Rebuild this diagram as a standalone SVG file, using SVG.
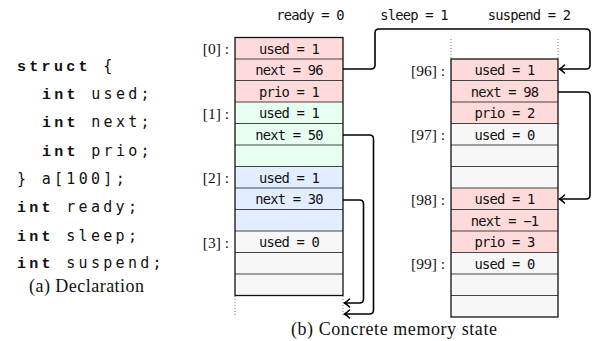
<svg xmlns="http://www.w3.org/2000/svg" width="593" height="341" viewBox="0 0 593 341">
<defs>
<marker id="arr" viewBox="-7 -6 9 12" markerWidth="9" markerHeight="12" refX="0" refY="0" orient="auto" markerUnits="userSpaceOnUse">
<path d="M-5,-4 Q-2,-1 0,0 Q-2,1 -5,4" fill="none" stroke="#000" stroke-width="1.5" stroke-linecap="round"/>
</marker>
</defs>
<style>
.code{font-family:"DejaVu Sans Mono",monospace;font-size:15px;letter-spacing:3.3px;fill:#111}
.kw{font-family:"Liberation Mono",monospace;font-weight:bold}
.cap{font-family:"Liberation Serif",serif;font-size:18px;fill:#111}
.idx{font-family:"Liberation Serif",serif;font-size:15.5px;fill:#111;text-anchor:end}
.cell{font-family:"DejaVu Sans Mono",monospace;font-size:13.8px;letter-spacing:-0.8px;fill:#111;text-anchor:middle}
.var{font-family:"DejaVu Sans Mono",monospace;font-size:13.8px;letter-spacing:-0.8px;fill:#111;text-anchor:middle}
.pk{fill:#ffdada}
.gr{fill:#e6fff0}
.bl{fill:#e2eeff}
.gy{fill:#f7f7f7}
.sep{stroke:#444;stroke-width:1}
.frame{fill:none;stroke:#111;stroke-width:1.3}
.dot{stroke:#777;stroke-width:1;stroke-dasharray:1 2}
.conn{fill:none;stroke:#000;stroke-width:1.6}
</style>

<g id="declaration">
<text class="code" x="17" y="71"><tspan class="kw">struct</tspan> {</text>
<text class="code" x="42" y="99"><tspan class="kw">int</tspan> used;</text>
<text class="code" x="42" y="127.3"><tspan class="kw">int</tspan> next;</text>
<text class="code" x="42" y="155.7"><tspan class="kw">int</tspan> prio;</text>
<text class="code" x="17" y="184">} a[100];</text>
<text class="code" x="17" y="212.3"><tspan class="kw">int</tspan> ready;</text>
<text class="code" x="17" y="240.7"><tspan class="kw">int</tspan> sleep;</text>
<text class="code" x="17" y="268"><tspan class="kw">int</tspan> suspend;</text>
<text class="cap" x="29" y="292" textLength="115" lengthAdjust="spacing">(a) Declaration</text>
</g>

<g id="vars">
<text class="var" x="310" y="20">ready = 0</text>
<text class="var" x="414" y="20">sleep = 1</text>
<text class="var" x="529" y="20">suspend = 2</text>
</g>

<g id="left-array">
<rect class="pk" x="235" y="37.5" width="108" height="64.5"/>
<rect class="gr" x="235" y="102" width="108" height="64.5"/>
<rect class="bl" x="235" y="166.5" width="108" height="64.5"/>
<rect class="gy" x="235" y="231" width="108" height="64.5"/>
<g class="sep">
<line x1="235" y1="59" x2="343" y2="59"/>
<line x1="235" y1="80.5" x2="343" y2="80.5"/>
<line x1="235" y1="102" x2="343" y2="102"/>
<line x1="235" y1="123.5" x2="343" y2="123.5"/>
<line x1="235" y1="145" x2="343" y2="145"/>
<line x1="235" y1="166.5" x2="343" y2="166.5"/>
<line x1="235" y1="188" x2="343" y2="188"/>
<line x1="235" y1="209.5" x2="343" y2="209.5"/>
<line x1="235" y1="231" x2="343" y2="231"/>
<line x1="235" y1="252.5" x2="343" y2="252.5"/>
<line x1="235" y1="274" x2="343" y2="274"/>
</g>
<rect class="frame" x="235" y="37.5" width="108" height="258"/>
<line class="dot" x1="235" y1="296" x2="235" y2="317"/>
<line class="dot" x1="343" y1="296" x2="343" y2="317"/>
<text class="cell" x="289" y="53.5">used = 1</text>
<text class="cell" x="289" y="75">next = 96</text>
<text class="cell" x="289" y="96.5">prio = 1</text>
<text class="cell" x="289" y="118">used = 1</text>
<text class="cell" x="289" y="139.5">next = 50</text>
<text class="cell" x="289" y="182.5">used = 1</text>
<text class="cell" x="289" y="204">next = 30</text>
<text class="cell" x="289" y="247">used = 0</text>
<text class="idx" x="229" y="54">[0] :</text>
<text class="idx" x="229" y="118.5">[1] :</text>
<text class="idx" x="229" y="183">[2] :</text>
<text class="idx" x="229" y="247.5">[3] :</text>
</g>

<g id="right-array">
<rect class="pk" x="451" y="59" width="107" height="64.5"/>
<rect class="gy" x="451" y="123.5" width="107" height="64.5"/>
<rect class="pk" x="451" y="188" width="107" height="64.5"/>
<rect class="gy" x="451" y="252.5" width="107" height="64.5"/>
<g class="sep">
<line x1="451" y1="80.5" x2="558" y2="80.5"/>
<line x1="451" y1="102" x2="558" y2="102"/>
<line x1="451" y1="123.5" x2="558" y2="123.5"/>
<line x1="451" y1="145" x2="558" y2="145"/>
<line x1="451" y1="166.5" x2="558" y2="166.5"/>
<line x1="451" y1="188" x2="558" y2="188"/>
<line x1="451" y1="209.5" x2="558" y2="209.5"/>
<line x1="451" y1="231" x2="558" y2="231"/>
<line x1="451" y1="252.5" x2="558" y2="252.5"/>
<line x1="451" y1="274" x2="558" y2="274"/>
<line x1="451" y1="295.5" x2="558" y2="295.5"/>
</g>
<rect class="frame" x="451" y="59" width="107" height="258"/>
<line class="dot" x1="451" y1="39" x2="451" y2="58"/>
<line class="dot" x1="558" y1="39" x2="558" y2="58"/>
<text class="cell" x="504.5" y="75">used = 1</text>
<text class="cell" x="504.5" y="96.5">next = 98</text>
<text class="cell" x="504.5" y="118">prio = 2</text>
<text class="cell" x="504.5" y="139.5">used = 0</text>
<text class="cell" x="504.5" y="204">used = 1</text>
<text class="cell" x="504.5" y="225.5">next = −1</text>
<text class="cell" x="504.5" y="247">prio = 3</text>
<text class="cell" x="504.5" y="268.5">used = 0</text>
<text class="idx" x="445" y="75.5">[96] :</text>
<text class="idx" x="445" y="140">[97] :</text>
<text class="idx" x="445" y="204.5">[98] :</text>
<text class="idx" x="445" y="269">[99] :</text>
</g>

<g id="connectors">
<path class="conn" marker-end="url(#arr)" d="M343,69 H371 Q375,69 375,65 V33 Q375,29 379,29 H586 Q590,29 590,33 V65 Q590,69 586,69 H559.5"/>
<path class="conn" marker-end="url(#arr)" d="M558,92 H586 Q590,92 590,96 V195 Q590,199 586,199 H559.5"/>
<path class="conn" marker-end="url(#arr)" d="M343,135 H369.5 Q373.5,135 373.5,139 V310 Q373.5,314 369.5,314 H344.5"/>
<path class="conn" marker-end="url(#arr)" d="M343,200 H359.5 Q363.5,200 363.5,204 V299 Q363.5,303 359.5,303 H344.5"/>
</g>

<g id="caption-b">
<text class="cap" x="291" y="335" textLength="206" lengthAdjust="spacing">(b) Concrete memory state</text>
</g>
</svg>
